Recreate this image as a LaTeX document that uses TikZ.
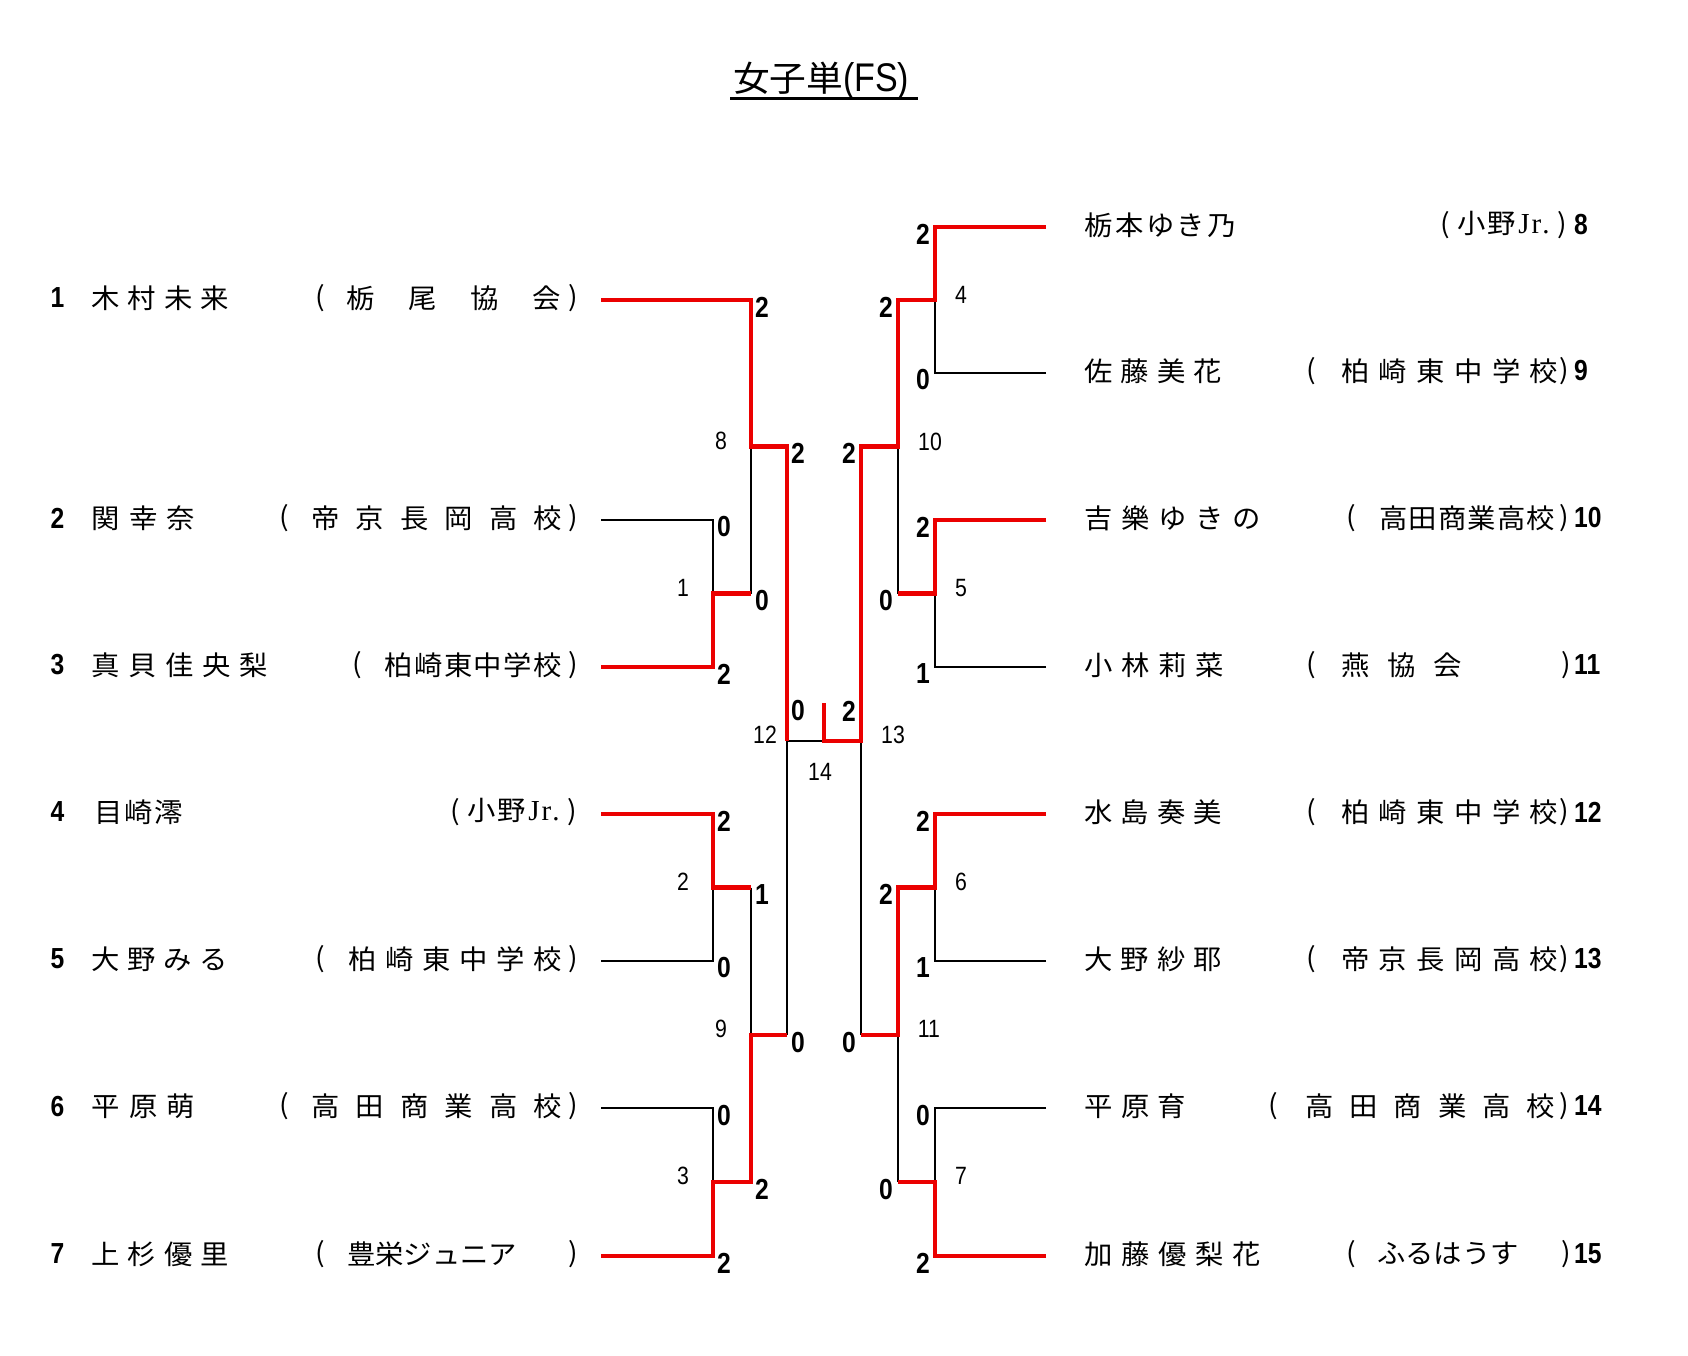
\documentclass[tikz,border=0pt]{standalone}
\usepackage{fontspec}
\setmainfont{Noto Sans CJK JP}
\newfontfamily\jp[FakeStretch=1.05]{Noto Sans CJK JP}
\newfontfamily\dig[FakeStretch=0.85]{Liberation Sans}
\newfontfamily\jrfont{Liberation Serif}
\definecolor{wred}{RGB}{235,0,0}
\ExplSyntaxOn
\cs_new_protected:Npn \SpreadBox #1 #2
  { \hbox_to_wd:nn {#1} { \tl_map_inline:nn {#2} { ##1 \hfil } \unskip } }
\ExplSyntaxOff
\tikzset{
  rl/.style={draw=wred,line width=4.2pt},
  bl/.style={draw=black,line width=2.7pt},
  blt/.style={draw=black,line width=2.1pt},
  txt/.style={inner sep=0pt,font=\jp\fontsize{27}{27}\selectfont},
  sc/.style={inner sep=0pt,font=\dig\bfseries\fontsize{29}{29}\selectfont},
  mn/.style={inner sep=0pt,font=\dig\fontsize{25}{25}\selectfont},
}
\newcommand\spreadat[5]{\node[txt,anchor=west] (#1) at (#2,#4) {\SpreadBox{\dimexpr #3pt - #2pt\relax}{#5}};}
\newcommand\ono{\hbox to 127pt{(\hfil 小\hskip 1pt 野\hskip 3pt{\jrfont\fontsize{29}{29}\selectfont J\hskip 2pt r\hskip 1pt.}\hfil)}}
\begin{document}
\begin{tikzpicture}[x=1pt,y=-1pt]
\fill[white] (0,0) rectangle (1688,1355);
\useasboundingbox (0,0) rectangle (1688,1355);
% ---------- title
\node[inner sep=0pt,anchor=west] (title) at (733,81)
  {\jp\fontsize{35}{35}\selectfont\SpreadBox{106pt}{女子単}\hspace{4pt}{\dig\fontsize{40}{40}\selectfont (FS)}};
\coordinate (ul1) at (730,98);
\coordinate (ul2) at (918,98);
\draw[line width=3pt] (ul1) -- (ul2);
% ---------- coordinates
\foreach \n/\y in {1/300,2/520,3/667,4/814,5/961,6/1108,7/1256}{
  \coordinate (s\n) at (601,\y);
  \coordinate (j\n) at (713,\y);
}
\coordinate (j1) at (751,300);
\foreach \n/\y in {8/227,9/373,10/520,11/667,12/814,13/961,14/1108,15/1256}{
  \coordinate (s\n) at (1046,\y);
  \coordinate (j\n) at (935,\y);
}
\coordinate (m1a) at (713,593.5);  \coordinate (m1b) at (751,593.5);
\coordinate (m2a) at (713,887.5);  \coordinate (m2b) at (751,887.5);
\coordinate (m3a) at (713,1182);   \coordinate (m3b) at (751,1182);
\coordinate (m8a) at (751,446.5);  \coordinate (m8b) at (787,446.5);
\coordinate (m9a) at (751,1035);   \coordinate (m9b) at (787,1035);
\coordinate (m12a) at (787,741);
\coordinate (fl) at (824,741);     \coordinate (ft) at (824,703);
\coordinate (m13a) at (861,741);
\coordinate (m10b) at (861,446.5); \coordinate (m10a) at (898,446.5);
\coordinate (m11b) at (861,1035);  \coordinate (m11a) at (898,1035);
\coordinate (m4a) at (935,300);    \coordinate (m4b) at (898,300);
\coordinate (m5a) at (935,593.5);  \coordinate (m5b) at (898,593.5);
\coordinate (m6a) at (935,887.5);  \coordinate (m6b) at (898,887.5);
\coordinate (m7a) at (935,1182);   \coordinate (m7b) at (898,1182);
% ---------- black lines
\draw[bl] (s2) -- (j2) -- (m1a);
\draw[bl] (m8a) -- (m1b);
\draw[bl] (s5) -- (j5) -- (m2a);
\draw[bl] (s6) -- (j6) -- (m3a);
\draw[bl] (m2b) -- (m9a);
\draw[blt] (m9b) -- (m12a) -- (fl);
\draw[bl] (s9) -- (j9) -- (m4a);
\draw[bl] (m10a) -- (m5b);
\draw[bl] (s11) -- (j11) -- (m5a);
\draw[bl] (s13) -- (j13) -- (m6a);
\draw[bl] (s14) -- (j14) -- (m7a);
\draw[bl] (m11a) -- (m7b);
\draw[blt] (m11b) -- (m13a);
% ---------- red lines
\draw[rl] (s1) -- (j1) -- (m8a) -- (m8b) -- (m12a);
\draw[rl] (s3) -- (j3) -- (m1a) -- (m1b);
\draw[rl] (s4) -- (j4) -- (m2a) -- (m2b);
\draw[rl] (s7) -- (j7) -- (m3a) -- (m3b) -- (m9a) -- (m9b);
\draw[rl] (s8) -- (j8) -- (m4a) -- (m4b) -- (m10a) -- (m10b) -- (m13a) -- (fl) -- (ft);
\draw[rl] (s10) -- (j10) -- (m5a) -- (m5b);
\draw[rl] (s12) -- (j12) -- (m6a) -- (m6b) -- (m11a) -- (m11b);
\draw[rl] (s15) -- (j15) -- (m7a) -- (m7b);
% ---------- scores, left
\node[sc] (sa1) at (762,307) {2};
\node[sc] (sa2) at (724,527) {0};
\node[sc] (sa3) at (724,674) {2};
\node[sc] (sb1) at (762,600.5) {0};
\node[sc] (sb8) at (798,453.5) {2};
\node[sc] (sa4) at (724,821) {2};
\node[sc] (sa5) at (724,968) {0};
\node[sc] (sb2) at (762,894.5) {1};
\node[sc] (sa6) at (724,1115) {0};
\node[sc] (sa7) at (724,1263) {2};
\node[sc] (sb3) at (762,1189) {2};
\node[sc] (sb9) at (798,1042) {0};
\node[sc] (sfl) at (798,711) {0};
\node[sc] (sfr) at (849,711) {2};
% ---------- scores, right
\node[sc] (sa8) at (923,234) {2};
\node[sc] (sa9) at (923,380) {0};
\node[sc] (sb4) at (886,307) {2};
\node[sc] (sb10) at (849,453.5) {2};
\node[sc] (sa10) at (923,527) {2};
\node[sc] (sa11) at (923,674) {1};
\node[sc] (sb5) at (886,600.5) {0};
\node[sc] (sa12) at (923,821) {2};
\node[sc] (sa13) at (923,968) {1};
\node[sc] (sb6) at (886,894.5) {2};
\node[sc] (sa14) at (923,1115) {0};
\node[sc] (sa15) at (923,1263) {2};
\node[sc] (sb7) at (886,1189) {0};
\node[sc] (sb11) at (849,1042) {0};
% ---------- match numbers
\node[mn] (g1) at (683,588) {1};
\node[mn] (g2) at (683,882) {2};
\node[mn] (g3) at (683,1176) {3};
\node[mn] (g8) at (721,441) {8};
\node[mn] (g9) at (721,1029) {9};
\node[mn] (g12) at (765,735) {12};
\node[mn] (g14) at (820,772) {14};
\node[mn] (g13) at (893,735) {13};
\node[mn] (g4) at (961,295) {4};
\node[mn] (g10) at (930,442) {10};
\node[mn] (g5) at (961,588) {5};
\node[mn] (g6) at (961,882) {6};
\node[mn] (g7) at (961,1176) {7};
\node[mn] (g11) at (929,1029) {11};
% ---------- left entries
\foreach \n/\y in {1/298,2/518,3/665,4/812,5/959,6/1106,7/1254}{
  \node[sc] (r\n) at (57.5,\y) {\n};
}
\spreadat{p1}{91}{229}{298}{木村未来}
\node[txt] (o1) at (320,298) {(};
\spreadat{a1}{346}{561}{298}{栃尾協会}
\node[txt] (c1) at (573,298) {)};
\spreadat{p2}{91}{195}{518}{関幸奈}
\node[txt] (o2) at (284,518) {(};
\spreadat{a2}{311}{562}{518}{帝京長岡高校}
\node[txt] (c2) at (573,518) {)};
\spreadat{p3}{91}{268}{665}{真貝佳央梨}
\node[txt] (o3) at (357,665) {(};
\spreadat{a3}{384}{562}{665}{柏崎東中学校}
\node[txt] (c3) at (573,665) {)};
\spreadat{p4}{94}{183}{812}{目崎澪}
\node[txt,anchor=west] (a4) at (450,812) {\ono};
\spreadat{p5}{91}{228}{959}{大野みる}
\node[txt] (o5) at (320,959) {(};
\spreadat{a5}{348}{562}{959}{柏崎東中学校}
\node[txt] (c5) at (573,959) {)};
\spreadat{p6}{91}{195}{1106}{平原萌}
\node[txt] (o6) at (284,1106) {(};
\spreadat{a6}{311}{562}{1106}{高田商業高校}
\node[txt] (c6) at (573,1106) {)};
\spreadat{p7}{91}{229}{1254}{上杉優里}
\node[txt] (o7) at (320,1254) {(};
\spreadat{a7}{347}{507}{1254}{豊栄ジュニア}
\node[txt] (c7) at (573,1254) {)};
% ---------- right entries
\foreach \n/\y in {8/225,9/371,10/518,11/665,12/812,13/959,14/1106,15/1254}{
  \node[sc,anchor=west] (r\n) at (1574,\y) {\n};
}
\spreadat{p8}{1084}{1236}{225}{栃本ゆき乃}
\node[txt,anchor=west] (a8) at (1440,225) {\ono};
\spreadat{p9}{1084}{1222}{371}{佐藤美花}
\node[txt] (o9) at (1311,371) {(};
\spreadat{a9}{1341}{1558}{371}{柏崎東中学校}
\node[txt] (c9) at (1564,371) {)};
\spreadat{p10}{1084}{1261}{518}{吉樂ゆきの}
\node[txt] (o10) at (1351,518) {(};
\spreadat{a10}{1379}{1555}{518}{高田商業高校}
\node[txt] (c10) at (1564,518) {)};
\spreadat{p11}{1084}{1224}{665}{小林莉菜}
\node[txt] (o11) at (1311,665) {(};
\spreadat{a11}{1341}{1462}{665}{燕協会}
\node[txt] (c11) at (1566,665) {)};
\spreadat{p12}{1084}{1222}{812}{水島奏美}
\node[txt] (o12) at (1311,812) {(};
\spreadat{a12}{1341}{1558}{812}{柏崎東中学校}
\node[txt] (c12) at (1564,812) {)};
\spreadat{p13}{1084}{1222}{959}{大野紗耶}
\node[txt] (o13) at (1311,959) {(};
\spreadat{a13}{1341}{1558}{959}{帝京長岡高校}
\node[txt] (c13) at (1564,959) {)};
\spreadat{p14}{1084}{1186}{1106}{平原育}
\node[txt] (o14) at (1273,1106) {(};
\spreadat{a14}{1305}{1555}{1106}{高田商業高校}
\node[txt] (c14) at (1564,1106) {)};
\spreadat{p15}{1084}{1261}{1254}{加藤優梨花}
\node[txt] (o15) at (1351,1254) {(};
\spreadat{a15}{1377}{1506}{1254}{ふるはうす}
\node[txt] (c15) at (1566,1254) {)};
\end{tikzpicture}
\end{document}
